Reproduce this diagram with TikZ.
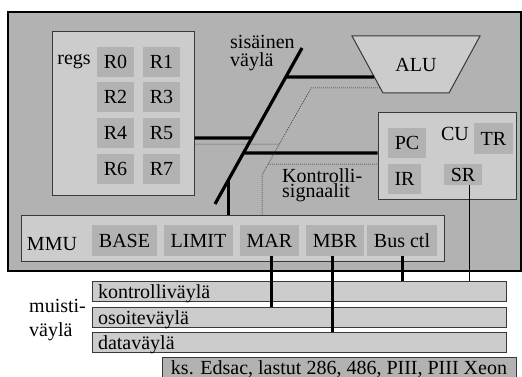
\documentclass[tikz,border=0pt]{standalone}
\usepackage{fontspec}
\setmainfont{Liberation Serif}
\usetikzlibrary{calc}
\definecolor{cpugray}{gray}{0.70}
\definecolor{panelgray}{gray}{0.80}
\definecolor{cellgray}{gray}{0.70}
\definecolor{edge}{gray}{0.22}
\begin{document}
\begin{tikzpicture}[x=1pt,y=-1pt,
  every node/.style={font=\fontsize{20}{24}\selectfont, inner sep=0pt},
  cpu/.style={draw=black, line width=1.6pt, fill=cpugray},
  panel/.style={draw=edge, line width=1pt, fill=panelgray},
  cell/.style={fill=cellgray},
  bar/.style={draw=edge, line width=1pt, fill=panelgray, minimum width=414pt,
    minimum height=20pt, text width=402pt, align=left, text height=14pt, text depth=0pt},
  note/.style={draw=edge, line width=1pt, fill=cellgray, text height=14pt, text depth=0pt},
  bus/.style={line width=3.2pt, black},
  sig/.style={line width=0.5pt, black!85, dash pattern=on 1pt off 1pt},
  wire/.style={line width=0.8pt, black}]
\useasboundingbox (0,0) rectangle (522,377);

% processor
\node[cpu, minimum width=513pt, minimum height=259pt] (cpu) at (264.5,141.5) {};

% register file
\node[panel, minimum width=142pt, minimum height=163pt] (regs) at (123,113.5) {};
\node (regslbl) at (74,62) {regs};
\foreach \n/\x/\y in {0/115.5/62, 1/161.5/62, 2/115.5/97, 3/161.5/97,
                      4/115.5/133, 5/161.5/133, 6/115.5/169, 7/161.5/169}
  \node[cell, minimum width=37pt, minimum height=30pt] (r\n) at (\x,\y) {R\n};

% ALU
\draw[panel] (352,36) -- (480,36) -- (449,93) -- (383,93) -- cycle;
\node (alu) at (416,65) {ALU};
\coordinate (aluin) at (374,77);
\coordinate (aluctl) at (380,88);

% control unit
\node[panel, minimum width=138pt, minimum height=86pt] (cu) at (447,156) {};
\node (culbl) at (455,134) {CU};
\node[cell, minimum width=38pt, minimum height=30pt] (pc) at (407,143) {PC};
\node[cell, minimum width=39pt, minimum height=31pt] (tr) at (493.5,138.5) {TR};
\node[cell, minimum width=33pt, minimum height=30pt] (ir) at (404.5,179) {IR};
\node[cell, minimum width=38pt, minimum height=21pt] (sr) at (463,174.5) {SR};

% memory management unit
\node[panel, minimum width=423pt, minimum height=46pt] (mmu) at (232.5,238) {};
\node (mmulbl) at (52,244) {MMU};
\node[cell, minimum width=65pt, minimum height=31pt] (base) at (124.5,240.5) {BASE};
\node[cell, minimum width=69pt, minimum height=31pt] (limit) at (198.5,240.5) {LIMIT};
\node[cell, minimum width=59pt, minimum height=31pt] (mar) at (269.5,240.5) {MAR};
\node[cell, minimum width=58pt, minimum height=31pt] (mbr) at (335,240.5) {MBR};
\node[cell, minimum width=70pt, minimum height=31pt] (busctl) at (402,240.5) {Bus ctl};

% memory bus
\node[bar] (kbus) at (299,291) {kontrolliväylä};
\node[bar] (obus) at (299,317) {osoiteväylä};
\node[bar] (dbus) at (299,342.5) {dataväylä};
\node[anchor=base west, align=left, font=\fontsize{20}{24}\selectfont] (memlbl) at (29,336) {muisti-\\väylä};
\node[note, minimum width=354pt, minimum height=20pt] (ks) at (339,367) {ks. Edsac, lastut 286, 486, PIII, PIII Xeon};

% internal bus
\coordinate (busT) at (302,48);
\coordinate (busB) at (215,204);
\draw[bus] (busT) -- (busB);
\draw[bus] (regs.east |- 0,138) -- ($(busT)!0.577!(busB)$);
\draw[bus] ($(busT)!0.186!(busB)$) -- (aluin);
\draw[bus] ($(busT)!0.673!(busB)$) -- (cu.west |- 0,153);
\coordinate (drop) at ($(busT)!0.846!(busB)$);
\draw[bus] (drop) -- (drop |- mmu.north);
\node[anchor=base west, align=left, font=\fontsize{20}{18}\selectfont] (buslbl) at (230,67) {sisäinen\\väylä};

% control signals
\coordinate (ctlT) at (311,88);
\coordinate (ctlK) at (262,175);
\draw[sig] (aluctl) -- (ctlT) -- (ctlK) -- (ctlK |- mmu.north);
\draw[sig] (regs.east |- 0,144) -- ($(ctlT)!0.644!(ctlK)$);
\draw[sig] ($(ctlT)!0.874!(ctlK)$) -- (cu.west |- 0,164);
\node[anchor=base west, align=left, font=\fontsize{20}{15}\selectfont] (siglbl) at (282,197) {Kontrolli-\\signaalit};

% connections to the memory bus
\draw[bus, line width=3pt] ([xshift=1.5pt]mar.south) -- ([xshift=1.5pt]mar.south |- obus.north);
\draw[bus, line width=3pt] ([xshift=-3pt]mbr.south) -- ([xshift=-3pt]mbr.south |- dbus.north);
\draw[bus, line width=3pt] (busctl.south) -- (busctl.south |- kbus.north);
\draw[wire] ([xshift=6pt]sr.south) -- ([xshift=6pt]sr.south |- kbus.north);
\end{tikzpicture}
\end{document}
